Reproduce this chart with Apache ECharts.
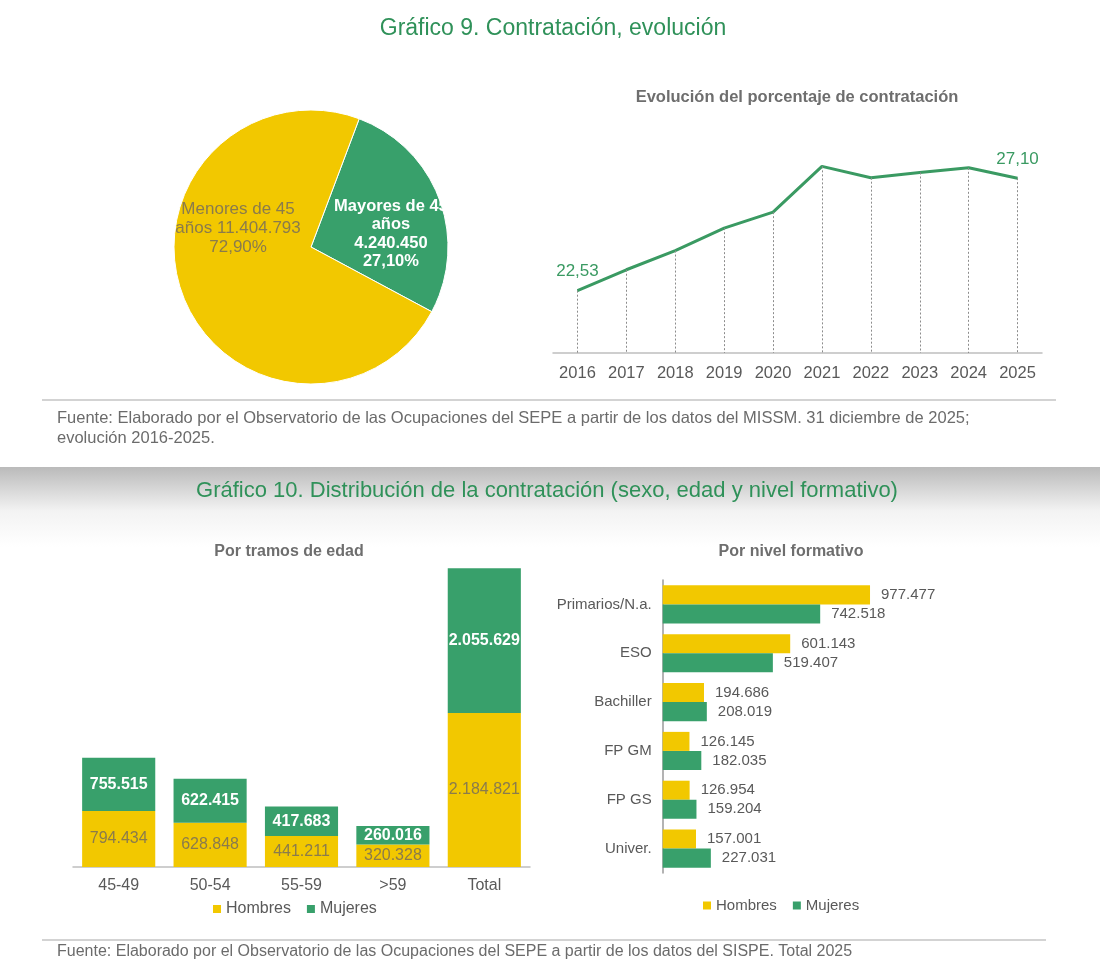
<!DOCTYPE html>
<html><head><meta charset="utf-8">
<script src="https://cdn.jsdelivr.net/npm/echarts@6/dist/echarts.min.js"></script>
<style>html,body{margin:0;padding:0;background:#fff}#c{width:1100px;height:973px}</style>
</head><body><div id="c"></div>
<script>
// ---- data ----
const pieNames = ['Mayores de 45 años', 'Menores de 45 años'];
const pieValues = [4240450, 11404793];
const piePercents = ['27,10%', '72,90%'];
const years = ['2016','2017','2018','2019','2020','2021','2022','2023','2024','2025'];
const pctValues = [22.53, 23.38, 24.16, 25.07, 25.72, 27.58, 27.12, 27.33, 27.52, 27.10];
const ageCats = ['45-49','50-54','55-59','>59','Total'];
const ageHombres = [794434, 628848, 441211, 320328, 2184821];
const ageMujeres = [755515, 622415, 417683, 260016, 2055629];
const eduCats = ['Primarios/N.a.','ESO','Bachiller','FP GM','FP GS','Univer.'];
const eduHombres = [977477, 601143, 194686, 126145, 126954, 157001];
const eduMujeres = [742518, 519407, 208019, 182035, 159204, 227031];
const legendNames = ['Hombres', 'Mujeres'];

// ---- styles ----
const YELLOW = '#f2c800', GREEN = '#38a06b', TITLE_GREEN = '#2f9159';
const FONT = '"Liberation Sans", Arial, Helvetica, sans-serif';
const AXIS_TXT = '#595959', OLIVE = '#8a7b4c';
const fmt = v => String(v).replace(/\B(?=(\d{3})+(?!\d))/g, '.');
const fmtDec = v => v.toFixed(2).replace('.', ',');

const chart = echarts.init(document.getElementById('c'), null, {renderer: 'canvas'});
const yMin = 20;
const ageMax = Math.max(...ageHombres.map((h, i) => h + ageMujeres[i]));

const option = {
  animation: false,
  textStyle: {fontFamily: FONT},
  graphic: [
    {type: 'rect', z: -10, shape: {x: 0, y: 467, width: 1100, height: 80},
     style: {fill: new echarts.graphic.LinearGradient(0, 0, 0, 1, [
       {offset: 0, color: '#bababa'}, {offset: 0.55, color: '#f3f3f3'}, {offset: 1, color: '#ffffff'}])}},
    {type: 'text', z: 10, x: 553, y: 29, style: {text: 'Gráfico 9. Contratación, evolución', fill: TITLE_GREEN,
      font: '23px ' + FONT, textAlign: 'center', textVerticalAlign: 'middle'}},
    {type: 'text', z: 10, x: 797, y: 97, style: {text: 'Evolución del porcentaje de contratación', fill: '#6e6e6e',
      font: 'bold 16.5px ' + FONT, textAlign: 'center', textVerticalAlign: 'middle'}},
    {type: 'line', z: 10, shape: {x1: 42, y1: 400, x2: 1056, y2: 400}, style: {stroke: '#c4c4c4', lineWidth: 1.5}},
    {type: 'text', z: 10, x: 57, y: 418, style: {text: 'Fuente: Elaborado por el Observatorio de las Ocupaciones del SEPE a partir de los datos del MISSM. 31 diciembre de 2025;',
      fill: '#6b6b6b', font: '16.5px ' + FONT, textVerticalAlign: 'middle'}},
    {type: 'text', z: 10, x: 57, y: 438, style: {text: 'evolución 2016-2025.',
      fill: '#6b6b6b', font: '16.5px ' + FONT, textVerticalAlign: 'middle'}},
    {type: 'text', z: 10, x: 547, y: 491, style: {text: 'Gráfico 10. Distribución de la contratación (sexo, edad y nivel formativo)', fill: TITLE_GREEN,
      font: '22px ' + FONT, textAlign: 'center', textVerticalAlign: 'middle'}},
    {type: 'text', z: 10, x: 289, y: 552, style: {text: 'Por tramos de edad', fill: '#6e6e6e',
      font: 'bold 16px ' + FONT, textAlign: 'center', textVerticalAlign: 'middle'}},
    {type: 'text', z: 10, x: 791, y: 552, style: {text: 'Por nivel formativo', fill: '#6e6e6e',
      font: 'bold 16px ' + FONT, textAlign: 'center', textVerticalAlign: 'middle'}},
    {type: 'line', z: 10, shape: {x1: 42, y1: 940, x2: 1046, y2: 940}, style: {stroke: '#c4c4c4', lineWidth: 1.5}},
    {type: 'text', z: 10, x: 57, y: 952, style: {text: 'Fuente: Elaborado por el Observatorio de las Ocupaciones del SEPE a partir de los datos del SISPE. Total 2025',
      fill: '#6b6b6b', font: '16px ' + FONT, textVerticalAlign: 'middle'}}
  ],
  legend: [
    {data: legendNames, left: 213, top: 901, padding: 0, icon: 'rect', itemWidth: 8, itemHeight: 8, itemGap: 16,
     textStyle: {color: AXIS_TXT, fontSize: 16, fontFamily: FONT}, selectedMode: false},
    {data: legendNames, left: 703, top: 898, padding: 0, icon: 'rect', itemWidth: 8, itemHeight: 8, itemGap: 16,
     textStyle: {color: AXIS_TXT, fontSize: 15, fontFamily: FONT}, selectedMode: false}
  ],
  grid: [
    {left: 553, right: 58, top: 156, bottom: 620},
    {left: 73, right: 570, top: 568.3, bottom: 106},
    {left: 662.7, right: 225.2, top: 580, bottom: 100}
  ],
  xAxis: [
    {gridIndex: 0, type: 'category', data: years, boundaryGap: true,
     axisLine: {lineStyle: {color: '#bfbfbf', width: 1.5}}, axisTick: {show: false},
     axisLabel: {color: AXIS_TXT, fontSize: 16.5, margin: 12, fontFamily: FONT}},
    {gridIndex: 1, type: 'category', data: ageCats,
     axisLine: {lineStyle: {color: '#bfbfbf', width: 1.5}}, axisTick: {show: false},
     axisLabel: {color: AXIS_TXT, fontSize: 16, margin: 11, fontFamily: FONT}},
    {gridIndex: 2, type: 'value', min: 0, max: 1000000, show: false}
  ],
  yAxis: [
    {gridIndex: 0, type: 'value', min: yMin, max: 28, show: false},
    {gridIndex: 1, type: 'value', min: 0, max: ageMax, show: false},
    {gridIndex: 2, type: 'category', data: eduCats, inverse: true,
     axisLine: {lineStyle: {color: '#9a9a9a', width: 1.5}}, axisTick: {show: false},
     axisLabel: {color: AXIS_TXT, fontSize: 15, margin: 11, fontFamily: FONT}}
  ],
  series: [
    {type: 'pie', center: [311, 247], radius: 137, startAngle: 69.4, clockwise: true,
     itemStyle: {borderColor: '#ffffff', borderWidth: 1},
     labelLine: {show: false},
     data: [
       {name: pieNames[0], value: pieValues[0], itemStyle: {color: GREEN},
        label: {show: true, position: 'inside', offset: [13, 12], color: '#ffffff', fontWeight: 'bold', fontSize: 16.5, lineHeight: 18.5, fontFamily: FONT,
          formatter: 'Mayores de 45\naños\n' + fmt(pieValues[0]) + '\n' + piePercents[0]}},
       {name: pieNames[1], value: pieValues[1], itemStyle: {color: YELLOW},
        label: {show: true, position: 'inside', offset: [-6, -44], color: OLIVE, fontSize: 17, lineHeight: 19, fontFamily: FONT,
          formatter: 'Menores de 45\naños ' + fmt(pieValues[1]) + '\n' + piePercents[1]}}
     ]},
    {type: 'line', xAxisIndex: 0, yAxisIndex: 0, data: pctValues.map((v, i) => ({
        value: v,
        label: {show: i === 0 || i === pctValues.length - 1}
      })),
     symbol: 'circle', symbolSize: 1, itemStyle: {color: '#3a9a62'},
     lineStyle: {color: '#3a9a62', width: 3},
     label: {position: 'top', distance: 10, color: '#3a9a62', fontSize: 17, fontFamily: FONT, formatter: p => fmtDec(p.value)},
     markLine: {silent: true, symbol: ['none', 'none'], label: {show: false},
       lineStyle: {type: [2, 2], color: '#8c8c8c', width: 1},
       data: pctValues.map((v, i) => [{coord: [i, v]}, {coord: [i, yMin]}])},
     z: 3},
    {type: 'bar', name: 'Hombres', xAxisIndex: 1, yAxisIndex: 1, stack: 'age', data: ageHombres, barWidth: '80%',
     itemStyle: {color: YELLOW},
     label: {show: true, position: 'inside', color: OLIVE, fontSize: 16, fontFamily: FONT, formatter: p => fmt(p.value)}},
    {type: 'bar', name: 'Mujeres', xAxisIndex: 1, yAxisIndex: 1, stack: 'age', data: ageMujeres, barWidth: '80%',
     itemStyle: {color: GREEN},
     label: {show: true, position: 'inside', color: '#ffffff', fontWeight: 'bold', fontSize: 16, fontFamily: FONT, formatter: p => fmt(p.value)}},
    {type: 'bar', name: 'Hombres', xAxisIndex: 2, yAxisIndex: 2, data: eduHombres, barGap: '0%', barCategoryGap: '22%',
     itemStyle: {color: YELLOW},
     label: {show: true, position: 'right', distance: 11, color: AXIS_TXT, fontSize: 15, fontFamily: FONT, formatter: p => fmt(p.value)}},
    {type: 'bar', name: 'Mujeres', xAxisIndex: 2, yAxisIndex: 2, data: eduMujeres, barGap: '0%', barCategoryGap: '22%',
     itemStyle: {color: GREEN},
     label: {show: true, position: 'right', distance: 11, color: AXIS_TXT, fontSize: 15, fontFamily: FONT, formatter: p => fmt(p.value)}}
  ]
};
chart.setOption(option);
</script>
</body></html>
